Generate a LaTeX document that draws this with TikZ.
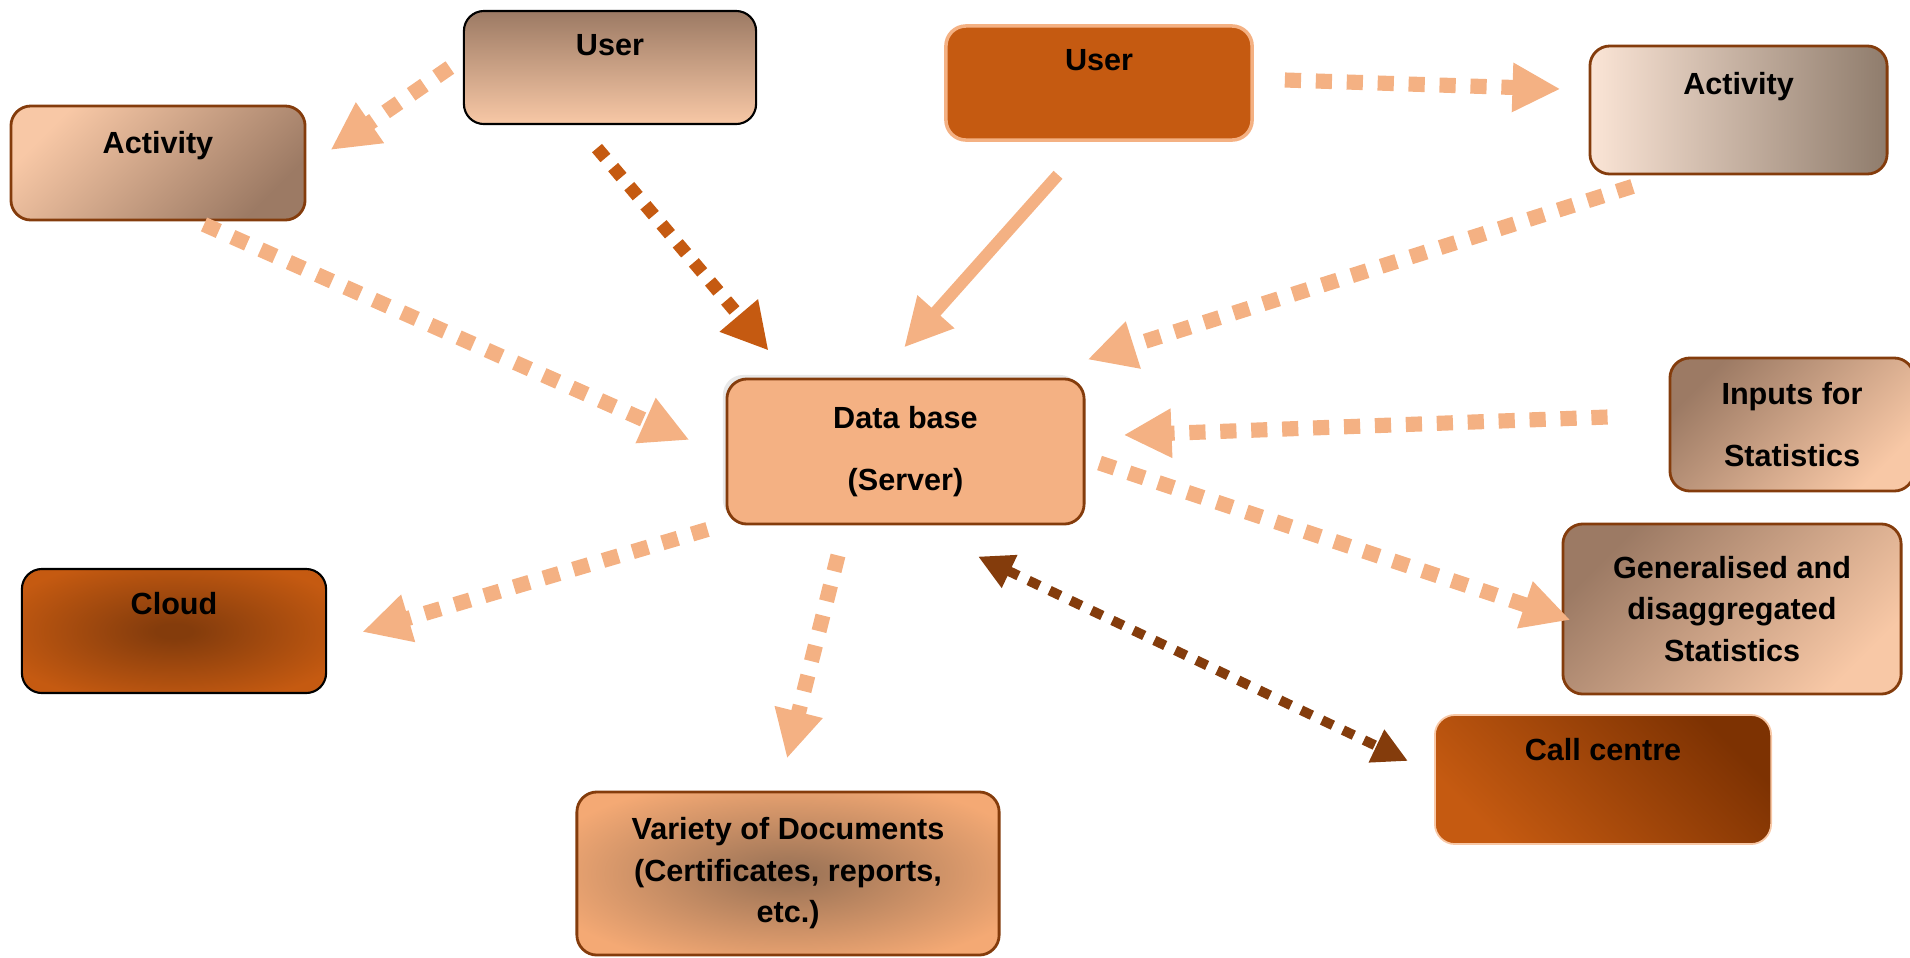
\documentclass[tikz,border=0pt]{standalone}
\usepackage{fontspec}
\setmainfont{Liberation Sans}
\usetikzlibrary{calc,arrows.meta,shadows}
\definecolor{PeachColor}{RGB}{244,177,131}
\definecolor{RustColor}{RGB}{197,90,17}
\definecolor{BrownColor}{RGB}{132,60,12}
\definecolor{DeepBrownColor}{RGB}{125,50,2}
\definecolor{TaupeColor}{RGB}{156,122,100}
\definecolor{SkinColor}{RGB}{248,200,166}
\definecolor{CreamColor}{RGB}{251,229,214}
\definecolor{SmokeColor}{RGB}{143,124,108}
\definecolor{SandColor}{RGB}{160,118,88}
\definecolor{ApricotColor}{RGB}{244,169,116}

\pgfdeclareradialshading{CloudGlow}{\pgfpoint{0bp}{0bp}}{color(0bp)=(BrownColor); color(3bp)=(BrownColor); color(30bp)=(RustColor); color(50bp)=(RustColor)}
\pgfdeclareradialshading{DocsGlow}{\pgfpoint{0bp}{0bp}}{color(0bp)=(SandColor); color(3bp)=(SandColor); color(30bp)=(ApricotColor); color(50bp)=(ApricotColor)}

\begin{document}
\begin{tikzpicture}[x=0.01cm, y=-0.01cm,
    font=\bfseries\fontsize{8.7}{11.8}\selectfont,
    card/.style={rounded corners=0.2cm, line width=0.8pt, align=center, inner sep=0pt},
    headline/.style 2 args={text height=#1, text depth=#2},
    flow/.style={PeachColor, line width=4.3pt, dash pattern=on 4.6pt off 4.2pt,
        -{Triangle[length=4.8mm, width=4.6mm]}}]

    \useasboundingbox (0,0) rectangle (1910,957);

    \node[card, draw=black, line width=0.6pt, top color=TaupeColor, bottom color=SkinColor,
        minimum width=2.92cm, headline={0.45cm}{0.68cm}] (User1) at (610,67.5) {User};
    \node[card, draw=BrownColor, top color=SkinColor, bottom color=TaupeColor, shading angle=45,
        minimum width=2.94cm, headline={0.47cm}{0.67cm}] (Activity1) at (158,163) {Activity};
    \node[card, draw=PeachColor, line width=1pt, fill=RustColor,
        minimum width=3.06cm, headline={0.45cm}{0.69cm}] (User2) at (1099,83) {User};
    \node[card, draw=BrownColor, left color=CreamColor, right color=SmokeColor,
        minimum width=2.97cm, headline={0.49cm}{0.79cm}] (Activity2) at (1738.5,110) {Activity};

    \node[card, draw=BrownColor, fill=PeachColor, minimum width=3.57cm, minimum height=1.45cm,
        font=\bfseries\fontsize{8.7}{17.6}\selectfont,
        drop shadow={opacity=0.18, shadow xshift=-0.4mm, shadow yshift=0.4mm}]
        (DataBase) at (905.5,451.5) {Data base\\(Server)};

    \node[card, draw=BrownColor, top color=TaupeColor, bottom color=SkinColor, shading angle=45,
        minimum width=2.44cm, minimum height=1.33cm, font=\bfseries\fontsize{8.7}{17.4}\selectfont]
        (InputsStats) at (1792,424.5) {Inputs for\\Statistics};
    \node[card, draw=BrownColor, top color=TaupeColor, bottom color=SkinColor, shading angle=45,
        minimum width=3.38cm, minimum height=1.70cm]
        (GenStats) at (1732,609) {Generalised and\\disaggregated\\Statistics};
    \node[card, draw=SkinColor, line width=0.5pt, top color=DeepBrownColor, bottom color=RustColor,
        shading angle=-45, minimum width=3.36cm, headline={0.45cm}{0.84cm}]
        (CallCentre) at (1603,779.5) {Call centre};

    \node[card, draw=black, line width=0.6pt, shade, shading=CloudGlow,
        minimum width=3.04cm, headline={0.45cm}{0.79cm}] (Cloud) at (174,631) {Cloud};
    \node[card, draw=BrownColor, shade, shading=DocsGlow, minimum width=4.22cm, minimum height=1.63cm]
        (Documents) at (788,873.5) {Variety of Documents\\(Certificates, reports,\\etc.)};

    % links into the data base
    \draw[flow] ($(User1.west)+(-13,0)$) -- ($(Activity1.east)+(24,-13)$);
    \draw[RustColor, line width=3.7pt, dash pattern=on 3.7pt off 3.4pt,
        -{Triangle[length=4.6mm, width=4.7mm]}]
        ($(User1.south)+(-13,23)$) -- ($(DataBase.north west)+(43,-27)$);
    \draw[flow] ($(Activity1.south)+(46,3)$) -- ($(DataBase.west)+(-36,-11.5)$);
    \draw[flow, solid, line width=3.4pt] ($(User2.south)+(-41,33)$) -- ($(DataBase.north)+(-1.5,-30)$);
    \draw[flow] ($(User2.east)+(31,-3)$) -- ($(Activity2.west)+(-28,-21)$);
    \draw[flow] ($(Activity2.south west)+(44,11)$) -- ($(DataBase.north east)+(2,-18)$);
    \draw[flow] ($(InputsStats.west)+(-61,-7.5)$) -- ($(DataBase.east)+(38,-16.5)$);

    % links out of the data base
    \draw[flow] ($(DataBase.east)+(14,11.5)$) -- ($(GenStats.west)+(9,11)$);
    \draw[BrownColor, line width=2.8pt, dash pattern=on 3.4pt off 3.2pt,
        {Triangle[length=3.5mm, width=3.4mm]}-{Triangle[length=3.5mm, width=3.4mm]}]
        ($(DataBase.south)+(72.5,31)$) -- ($(CallCentre.west)+(-26,-18.5)$);
    \draw[flow] ($(DataBase.south west)+(-18,4)$) -- ($(Cloud.east)+(35,1)$);
    \draw[flow] ($(DataBase.south)+(-67.5,30)$) -- ($(Documents.north)+(-1,-32)$);

\end{tikzpicture}
\end{document}
